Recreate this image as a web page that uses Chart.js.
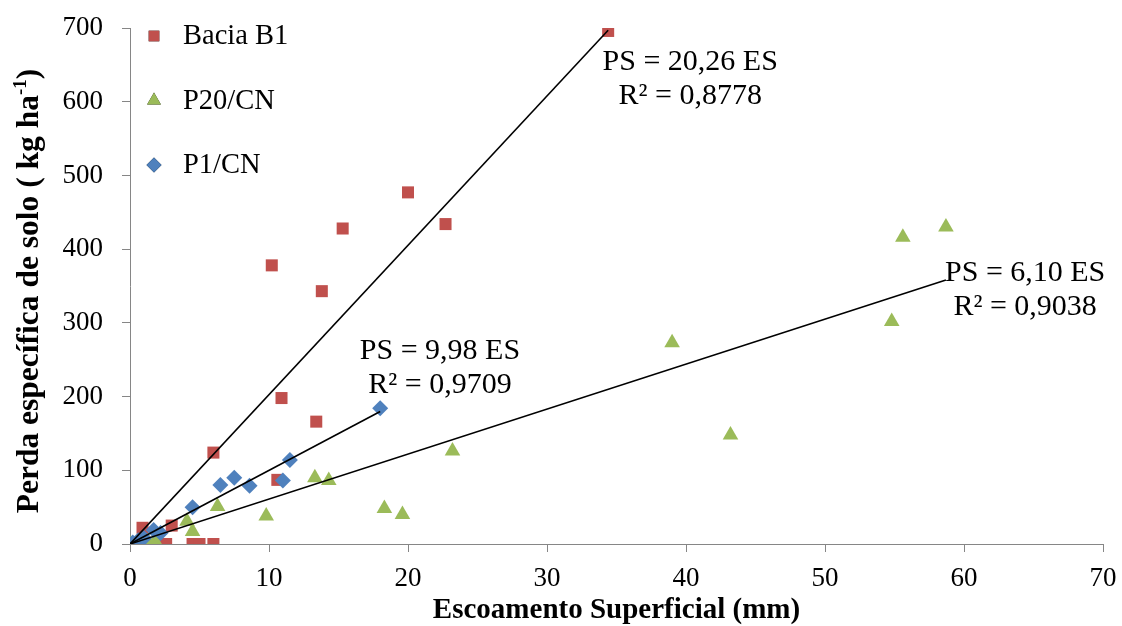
<!DOCTYPE html>
<html>
<head>
<meta charset="utf-8">
<script src="https://cdn.jsdelivr.net/npm/chart.js@4/dist/chart.umd.min.js"></script>
<style>
  html, body { margin: 0; padding: 0; background: #fff; }
  #wrap { width: 1122px; height: 626px; position: relative; }
</style>
</head>
<body>
<div id="wrap"><canvas id="chart"></canvas></div>
<script>
/* ── Data ── */
const baciaX = [0, 0.9, 2.0, 2.6, 3.0, 4.5, 5.0, 6.0, 6.0, 10.2, 10.6, 10.9, 13.4, 13.8, 15.3, 20.0, 22.7, 34.4];
const baciaY = [0, 22, 0, 0, 25, 0, 0, 0, 124, 378, 87, 198, 166, 343, 428, 477, 434, 696];

const p20X = [0, 0.8, 1.3, 1.8, 4.1, 4.5, 6.3, 9.8, 13.3, 14.3, 18.3, 19.6, 23.2, 39.0, 43.2, 54.8, 55.6, 58.7];
const p20Y = [0, 2, 3, 4, 31, 17, 51, 38, 90, 86, 48, 40, 126, 273, 148, 302, 416, 430];

const p1X = [0.2, 0.6, 1.0, 1.7, 2.2, 4.5, 6.5, 7.5, 8.6, 11.0, 11.5, 18.0];
const p1Y = [2, 5, 8, 19, 15, 50, 80, 90, 79, 86, 114, 184];

const seriesNames  = ['Bacia B1', 'P20/CN', 'P1/CN'];
const seriesColors = ['#C0504D', '#9BBB59', '#4F81BD'];
const seriesStyles = ['rect', 'triangle', 'rectRot'];

// linear fits through the origin (PS = a · ES)
const slopes   = [20.26, 6.10, 9.98];
const r2Values = ['0,8778', '0,9038', '0,9709'];
const eqLabels = ['PS = 20,26 ES', 'PS = 6,10 ES', 'PS = 9,98 ES'];

const xTicks = [0, 10, 20, 30, 40, 50, 60, 70];
const yTicks = [0, 100, 200, 300, 400, 500, 600, 700];

const FONT = "'Liberation Serif', 'Times New Roman', serif";

/* ── Helpers ── */
const toPoints = (xs, ys) => xs.map((x, i) => ({ x, y: ys[i] }));
const fitLine = (xs, a) => {
    const xMax = Math.max(...xs);
    return [{ x: 0, y: 0 }, { x: xMax, y: a * xMax }];
};

const seriesX = [baciaX, p20X, p1X];
const seriesY = [baciaY, p20Y, p1Y];

const scatterSets = seriesNames.map((name, i) => ({
    type: 'scatter',
    label: name,
    data: toPoints(seriesX[i], seriesY[i]),
    pointStyle: seriesStyles[i],
    pointRadius: i === 0 ? 8.5 : (i === 1 ? 9 : 8),
    backgroundColor: seriesColors[i],
    borderColor: seriesColors[i],
    borderWidth: 0,
    order: 3 - i
}));

const trendSets = slopes.map((a, i) => ({
    type: 'line',
    label: 'trend ' + i,
    data: fitLine(seriesX[i], a),
    borderColor: '#000',
    borderWidth: 1.6,
    pointRadius: 0,
    fill: false,
    order: 0
}));

/* ── Overlay: legend, equations, axis titles ── */
const overlay = {
    id: 'overlay',
    afterDraw(chart) {
        const { ctx, chartArea: ca, scales } = chart;
        ctx.save();

        // legend (inside plot, top-left)
        ctx.font = '28.5px ' + FONT;
        ctx.textBaseline = 'middle';
        ctx.textAlign = 'left';
        seriesNames.forEach((name, i) => {
            const cy = ca.top + 8 + i * 64.5;
            Chart.helpers.drawPoint(ctx, {
                pointStyle: seriesStyles[i],
                radius: i === 1 ? 8 : 7.5,
                rotation: 0,
                borderWidth: 0
            }, ca.left + 24, cy);
            ctx.fillStyle = seriesColors[i];
            ctx.fill();
            ctx.fillStyle = '#000';
            ctx.fillText(name, ca.left + 53, cy + 1);
        });

        // regression equations
        const anchors = [[40.3, 654], [64.4, 368], [22.3, 261]];
        ctx.font = '30px ' + FONT;
        ctx.textAlign = 'center';
        eqLabels.forEach((txt, i) => {
            const px = scales.x.getPixelForValue(anchors[i][0]);
            const py = scales.y.getPixelForValue(anchors[i][1]);
            ctx.fillText(txt, px, py);
            ctx.fillText('R² = ' + r2Values[i], px, py + 34);
        });

        // x title
        ctx.font = 'bold 29px ' + FONT;
        ctx.textBaseline = 'alphabetic';
        ctx.fillText('Escoamento Superficial (mm)', (ca.left + ca.right) / 2, 618);

        // y title, rotated, with superscript
        ctx.translate(38, 291);
        ctx.rotate(-Math.PI / 2);
        const main = 'Perda específica de solo ( kg ha';
        const sup = '-1';
        ctx.font = 'bold 31.5px ' + FONT;
        const wMain = ctx.measureText(main).width;
        ctx.font = 'bold 19px ' + FONT;
        const wSup = ctx.measureText(sup).width;
        ctx.font = 'bold 31.5px ' + FONT;
        const wClose = ctx.measureText(')').width;
        let x0 = -(wMain + wSup + wClose) / 2;
        ctx.textAlign = 'left';
        ctx.fillText(main, x0, 0);
        ctx.font = 'bold 19px ' + FONT;
        ctx.fillText(sup, x0 + wMain, -12);
        ctx.font = 'bold 31.5px ' + FONT;
        ctx.fillText(')', x0 + wMain + wSup, 0);

        ctx.restore();
    }
};

/* ── Chart ── */
new Chart(document.getElementById('chart'), {
    data: { datasets: [...trendSets, ...scatterSets] },
    options: {
        responsive: true,
        maintainAspectRatio: false,
        animation: false,
        layout: { padding: { top: 28, right: 19, left: 0, bottom: 0 } },
        plugins: { legend: { display: false }, tooltip: { enabled: false } },
        scales: {
            x: {
                type: 'linear',
                min: 0, max: 70,
                afterBuildTicks: s => { s.ticks = xTicks.map(v => ({ value: v })); },
                afterFit: s => { s.height = 82; s.paddingLeft = 0; s.paddingRight = 0; },
                grid: { display: true, drawOnChartArea: false, drawTicks: true, tickLength: 8, color: '#868686' },
                border: { color: '#868686', width: 1 },
                ticks: { font: { family: FONT, size: 27 }, color: '#000', padding: 11, maxRotation: 0 }
            },
            y: {
                type: 'linear',
                min: 0, max: 700,
                afterBuildTicks: s => { s.ticks = yTicks.map(v => ({ value: v })); },
                afterFit: s => { s.width = 130; s.paddingTop = 0; s.paddingBottom = 0; },
                grid: { display: true, drawOnChartArea: false, drawTicks: true, tickLength: 8, color: '#868686' },
                border: { color: '#868686', width: 1 },
                ticks: { font: { family: FONT, size: 27 }, color: '#000', padding: 19 }
            }
        }
    },
    plugins: [overlay]
});
</script>
</body>
</html>
